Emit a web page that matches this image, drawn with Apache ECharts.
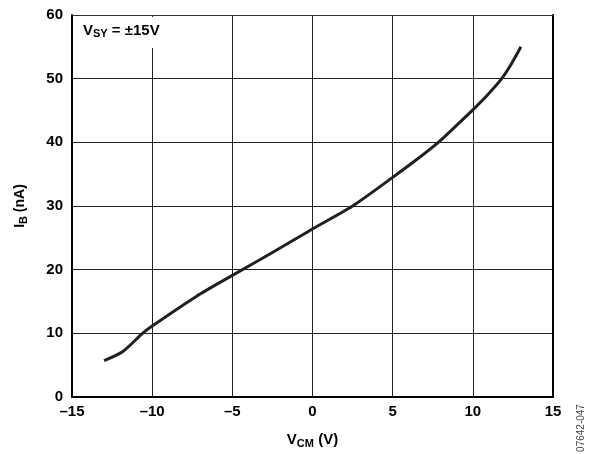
<!DOCTYPE html>
<html><head><meta charset="utf-8">
<script src="https://cdn.jsdelivr.net/npm/echarts@6/dist/echarts.min.js"></script>
<style>html,body{margin:0;padding:0;background:#fff}#c{width:589px;height:454px}</style>
</head><body><div id="c"></div>
<script>
const vcm = [-13, -11.85, -10.6, -10, -7.25, -5, -2.5, 0, 2.5, 5, 6.5, 7.85, 9, 10, 10.9, 11.8, 12.4, 13];
const ib  = [5.7, 7.1, 10, 11.15, 15.8, 19.1, 22.7, 26.4, 30.0, 34.5, 37.3, 40, 42.7, 45.1, 47.4, 50, 52.3, 55];
const xTicks = [-15, -10, -5, 0, 5, 10, 15];
const yTicks = [0, 10, 20, 30, 40, 50, 60];
const F = 'Liberation Sans, Arial, sans-serif';
const chart = echarts.init(document.getElementById('c'), null, {renderer: 'canvas'});
const data = vcm.map((v, i) => [v, ib[i]]);
const richT = {
  a: {fontFamily: F, fontWeight: 'bold', fontSize: 15, color: '#000'},
  s: {fontFamily: F, fontWeight: 'bold', fontSize: 11, color: '#000', verticalAlign: 'bottom', padding: [7, 0, 0, 0]}
};
chart.setOption({
  animation: false,
  grid: {left: 72, right: 36, top: 15, bottom: 55, containLabel: false},
  xAxis: [{
    type: 'value', min: -15, max: 15, interval: 5,
    axisLine: {show: true, onZero: false, lineStyle: {color: '#000', width: 2}},
    axisTick: {show: false},
    splitLine: {show: true, lineStyle: {color: '#222', width: 1}},
    axisLabel: {color: '#000', fontFamily: F, fontWeight: 'bold', fontSize: 15, margin: 7,
      formatter: v => (v < 0 ? '\u2013' + Math.abs(v) : String(v))},
    name: '{a|V}{s|CM}{a| (V)}', nameLocation: 'middle', nameGap: 34,
    nameTextStyle: {rich: richT}
  }, {
    type: 'value', min: -15, max: 15, interval: 5, position: 'top',
    axisLine: {show: true, onZero: false, lineStyle: {color: '#333', width: 1}},
    axisTick: {show: false}, axisLabel: {show: false}, splitLine: {show: false}
  }],
  yAxis: [{
    type: 'value', min: 0, max: 60, interval: 10,
    axisLine: {show: true, onZero: false, lineStyle: {color: '#000', width: 2}},
    axisTick: {show: false},
    splitLine: {show: true, lineStyle: {color: '#222', width: 1}},
    axisLabel: {color: '#000', fontFamily: F, fontWeight: 'bold', fontSize: 15, margin: 9},
    name: '{a|I}{s|B}{a| (nA)}', nameLocation: 'middle', nameGap: 43, nameRotate: 90,
    nameTextStyle: {rich: {
      a: {fontFamily: F, fontWeight: 'bold', fontSize: 14, color: '#000'},
      s: {fontFamily: F, fontWeight: 'bold', fontSize: 11, color: '#000', verticalAlign: 'bottom', padding: [7, 0, 0, 0]}
    }}
  }, {
    type: 'value', min: 0, max: 60, interval: 10, position: 'right',
    axisLine: {show: true, onZero: false, lineStyle: {color: '#000', width: 2}},
    axisTick: {show: false}, axisLabel: {show: false}, splitLine: {show: false}
  }],
  series: [{
    type: 'line', data: data, smooth: 0.25, symbol: 'none',
    lineStyle: {color: '#231f20', width: 3}, z: 5
  }],
  graphic: [{
    type: 'rect', left: 76, top: 17, shape: {width: 98, height: 31}, style: {fill: '#fff'}, z: 10
  }, {
    type: 'text', left: 83, top: 23, z: 11,
    style: {
      text: '{a|V}{s|SY}{a| = \u00b115V}',
      rich: {
        a: {fontFamily: F, fontWeight: 'bold', fontSize: 15, fill: '#000'},
        s: {fontFamily: F, fontWeight: 'bold', fontSize: 11, fill: '#000', verticalAlign: 'bottom', padding: [7, 0, 0, 0]}
      }
    }
  }, {
    type: 'text', x: 581, y: 428, rotation: Math.PI / 2, z: 11,
    style: {text: '07642-047', fontFamily: F, fontSize: 10, fill: '#444', align: 'center', verticalAlign: 'middle'}
  }]
});
</script></body></html>
